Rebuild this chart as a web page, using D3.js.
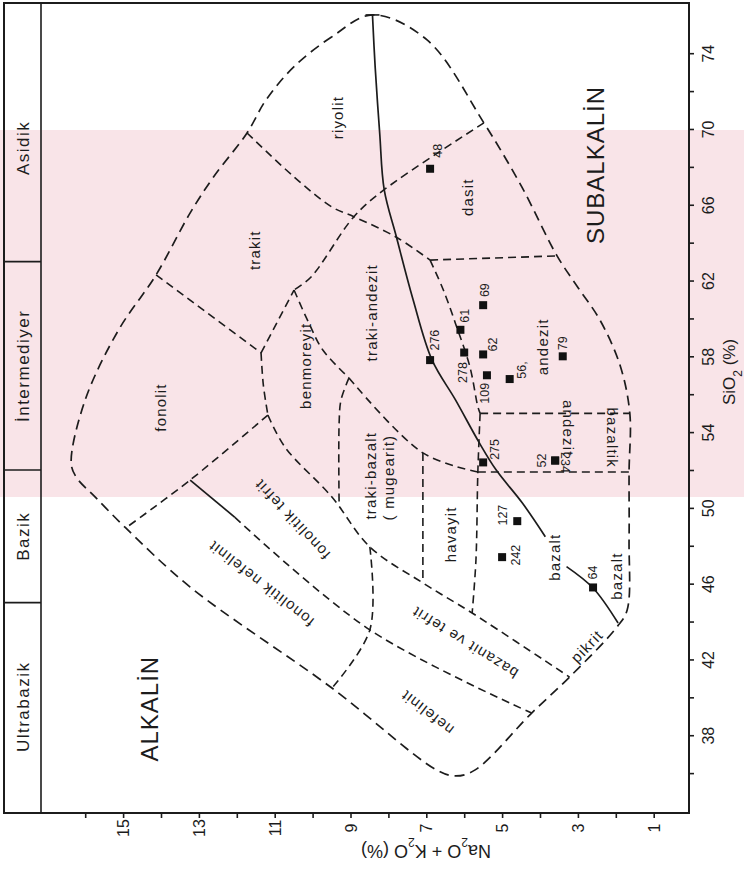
<!DOCTYPE html>
<html>
<head>
<meta charset="utf-8">
<script src="https://cdn.jsdelivr.net/npm/d3@7"></script>
<style>
  body { margin: 0; background: #fff; }
  svg { display: block; font-family: "Liberation Sans", "DejaVu Sans", sans-serif; }
</style>
</head>
<body>
<svg id="chart" width="744" height="876"></svg>
<script>
// ---- data (SiO2 %, Na2O+K2O %) ----
const sampleIds   = ["48", "276", "278", "61", "69", "62", "109", "56,", "79", "275", "52", "234", "127", "242", "64"];
const sampleSiO2  = [67.9, 57.8, 58.2, 59.4, 60.7, 58.1, 57.0, 56.8, 58.0, 52.4, 52.5, 52.5, 49.3, 47.4, 45.8];
const sampleAlk   = [6.9, 6.9, 6.0, 6.1, 5.5, 5.5, 5.4, 4.8, 3.4, 5.5, 3.6, 3.6, 4.6, 5.0, 2.6];

const silicaTicks = d3.range(36, 76, 2);
const alkaliTicks = d3.range(1, 17);

const classNames  = ["Ultrabazik", "Bazik", "İntermediyer", "Asidik"];
const classLimits = [34, 45, 52, 63, 75];

// outer envelope of the diagram
const envelope = [[76.02,8.42],[74.87,9.49],[73.29,10.49],[71.53,11.23],[69.79,11.73],[67.48,12.61],[65.57,13.23],
  [62.30,14.13],[59.39,15.12],[55.70,16.0],[52.37,16.37],[51.63,16.24],[50.58,15.74],[48.94,14.93],[45.82,13.23],
  [40.49,9.49],[36.17,6.73],[35.85,6.22],[36.17,5.71],[39.17,4.22],[41.07,3.22],[43.71,1.97],[44.61,1.70],
  [48.31,1.65],[51.89,1.65],[54.99,1.63],[57.54,1.89],[59.92,2.42],[61.61,2.99],[63.30,3.55],[66.94,4.48],
  [70.32,5.48],[74.70,6.98]];

// inner field boundaries (dashed)
const boundaries = [
  [[69.79,11.73],[67.47,10.49],[65.88,9.49],[65.37,8.91],[64.30,7.80],[63.08,6.90]],
  [[70.32,5.48],[66.78,8.12],[65.37,8.91],[62.19,10.04],[61.50,10.49]],
  [[63.08,6.90],[63.30,3.55]],
  [[63.08,6.90],[61.50,6.55],[59.56,6.20],[57.45,5.85],[55.34,5.64],[54.99,5.58]],
  [[54.99,5.58],[54.99,1.63]],
  [[54.99,5.58],[51.89,5.64],[47.25,5.69],[44.45,5.79]],
  [[51.89,5.64],[51.89,1.65]],
  [[61.50,10.49],[59.76,10.10],[58.33,9.73],[56.86,9.04]],
  [[56.86,9.04],[52.90,7.09],[51.89,5.64]],
  [[62.30,14.13],[58.18,11.36]],
  [[58.18,11.36],[61.50,10.49]],
  [[58.18,11.36],[56.49,11.30],[54.90,11.18]],
  [[54.90,11.18],[51.47,13.23],[48.94,14.93]],
  [[54.90,11.18],[53.21,10.73],[50.57,9.49],[47.94,8.49],[46.04,7.09],[44.45,5.79],[41.07,3.22]],
  [[56.86,9.04],[55.70,9.25],[54.48,9.30],[50.07,9.30]],
  [[52.90,7.09],[46.04,7.09]],
  [[49.50,12.05],[43.56,8.49],[39.17,4.22]],
  [[47.94,8.49],[43.56,8.49],[40.49,9.49]]
];
// short solid start of the phonolitic tephrite base
const tephriteBase = [[51.47,13.23],[49.50,12.05]];

// alkaline / subalkaline divide (solid)
const divideUpper = [[76.02,8.42],[73.29,8.35],[69.79,8.23],[66.78,8.11],[64.31,7.79],[61.0,7.35],[57.81,6.85],
  [55.70,6.23],[53.43,5.60],[52.01,5.16],[50.27,4.47],[48.48,3.86]];
const divideLower = [[46.90,3.30],[45.77,2.60],[43.92,1.94]];

// field names: text, SiO2, alkali
const fieldNames  = ["riyolit", "trakit", "dasit", "traki-andezit", "benmoreyit", "fonolit", "traki-bazalt", "( mugearit)",
  "havayit", "bazalt", "bazalt", "pikrit", "andezit", "bazaltik", "andezit", "fonolitik tefrit", "fonolitik nefelinit",
  "bazanit ve tefrit", "nefelinit"];
const fieldSiO2   = [70.6, 63.6, 66.4, 60.3, 57.5, 55.3, 51.7, 51.6, 48.6, 47.4, 46.4, 42.7, 58.5, 53.7, 54.2, 49.4, 46.0, 42.9, 39.2];
const fieldAlk    = [9.33, 11.52, 5.9, 8.43, 10.17, 14.0, 8.46, 7.98, 6.35, 3.6, 1.97, 2.76, 3.92, 2.1, 3.26, 10.54, 11.36, 5.98, 6.98];
const fieldAngle  = [-90, -90, -90, -90, -90, -90, -90, -90, -90, -90, -90, -46, -90, 90, 90, -133, -142, -148, -142];

// ---- layout ----
const svg = d3.select("#chart");
const frame = {left: 4, inner: 41, right: 689, top: 3, bottom: 813};

const x = d3.scaleLinear().domain([0, 17]).range([691.6, 47.3]);  // Na2O+K2O runs right to left
const y = d3.scaleLinear().domain([34, 74]).range([811, 53.2]);   // SiO2 runs upwards
const ink = "#1c1c1c";

// faint pink scan band behind the plot
svg.append("rect")
  .attr("x", 0).attr("y", 130).attr("width", 744).attr("height", 367)
  .attr("fill", "#f9e4e8");

// frame and class strip
svg.append("rect")
  .attr("x", frame.left).attr("y", frame.top)
  .attr("width", frame.right - frame.left).attr("height", frame.bottom - frame.top)
  .attr("fill", "none").attr("stroke", ink).attr("stroke-width", 2);
svg.append("line")
  .attr("x1", frame.inner).attr("x2", frame.inner)
  .attr("y1", frame.top).attr("y2", frame.bottom)
  .attr("stroke", ink).attr("stroke-width", 1.6);

svg.selectAll(".class-div")
  .data(classLimits.slice(1, -1))
  .join("line")
  .attr("x1", frame.left).attr("x2", frame.inner)
  .attr("y1", d => y(d)).attr("y2", d => y(d))
  .attr("stroke", ink).attr("stroke-width", 1.6);

svg.selectAll(".class-name")
  .data(classNames)
  .join("text")
  .attr("transform", (d, i) => `translate(23,${(y(classLimits[i]) + y(classLimits[i + 1])) / 2}) rotate(-90)`)
  .attr("text-anchor", "middle")
  .attr("dy", "0.35em")
  .attr("font-size", 17)
  .attr("letter-spacing", 1.5)
  .attr("fill", ink)
  .text(d => d);

// ---- axes ----
const yAxis = svg.append("g")
  .attr("transform", `translate(${frame.right},0)`)
  .call(d3.axisRight(y).tickValues(silicaTicks).tickSize(5)
    .tickFormat(d => (d - 38) % 4 === 0 ? d : ""));
yAxis.select(".domain").remove();
yAxis.selectAll("line").attr("stroke", ink).attr("stroke-width", 1.6);
yAxis.selectAll("text")
  .attr("x", 0).attr("dy", "0.35em")
  .attr("transform", "translate(19,0) rotate(-90)")
  .attr("text-anchor", "middle")
  .attr("font-size", 16).attr("fill", ink)
  .attr("font-family", "Liberation Sans");

const xAxis = svg.append("g")
  .attr("transform", `translate(0,${frame.bottom})`)
  .call(d3.axisBottom(x).tickValues(alkaliTicks).tickSize(5)
    .tickFormat(d => d % 2 ? d : ""));
xAxis.select(".domain").remove();
xAxis.selectAll("line").attr("stroke", ink).attr("stroke-width", 1.6);
xAxis.selectAll("text")
  .attr("y", 0).attr("dy", "0.35em")
  .attr("transform", "translate(0,15) rotate(-90)")
  .attr("text-anchor", "middle")
  .attr("font-size", 16).attr("fill", ink)
  .attr("font-family", "Liberation Sans");

// axis titles
const siTitle = svg.append("text")
  .attr("transform", "translate(729,372) rotate(-90)")
  .attr("text-anchor", "middle").attr("dy", "0.35em")
  .attr("font-size", 17).attr("fill", ink);
siTitle.append("tspan").text("SiO");
siTitle.append("tspan").attr("baseline-shift", "sub").attr("font-size", 12).text("2");
siTitle.append("tspan").text(" (%)");

const alkTitle = svg.append("text")
  .attr("transform", "translate(426,851) rotate(180)")
  .attr("text-anchor", "middle").attr("dy", "0.35em")
  .attr("font-size", 18).attr("fill", ink);
alkTitle.append("tspan").text("Na");
alkTitle.append("tspan").attr("baseline-shift", "sub").attr("font-size", 12).text("2");
alkTitle.append("tspan").text("O + K");
alkTitle.append("tspan").attr("baseline-shift", "sub").attr("font-size", 12).text("2");
alkTitle.append("tspan").text("O (%)");

// ---- fields ----
const closed = d3.line().x(d => x(d[1])).y(d => y(d[0])).curve(d3.curveCatmullRomClosed.alpha(0.5));
const open = d3.line().x(d => x(d[1])).y(d => y(d[0])).curve(d3.curveCatmullRom.alpha(0.5));

svg.append("path")
  .datum(envelope)
  .attr("d", closed)
  .attr("fill", "none").attr("stroke", ink).attr("stroke-width", 1.7)
  .attr("stroke-dasharray", "10,6");

svg.selectAll(".field-line")
  .data(boundaries)
  .join("path")
  .attr("d", open)
  .attr("fill", "none").attr("stroke", ink).attr("stroke-width", 1.6)
  .attr("stroke-dasharray", "8,5");

svg.selectAll(".divide")
  .data([divideUpper, divideLower, tephriteBase])
  .join("path")
  .attr("d", open)
  .attr("fill", "none").attr("stroke", ink).attr("stroke-width", 1.7);

// small cap at the top of the divide
svg.append("line")
  .attr("x1", x(divideUpper[0][1]) - 7).attr("x2", x(divideUpper[0][1]) + 7)
  .attr("y1", y(divideUpper[0][0])).attr("y2", y(divideUpper[0][0]))
  .attr("stroke", ink).attr("stroke-width", 1.6);

svg.selectAll(".field-name")
  .data(fieldNames)
  .join("text")
  .attr("transform", (d, i) => `translate(${x(fieldAlk[i])},${y(fieldSiO2[i])}) rotate(${fieldAngle[i]})`)
  .attr("text-anchor", "middle").attr("dy", "0.35em")
  .attr("font-size", 15).attr("letter-spacing", 1.2)
  .attr("fill", ink)
  .text(d => d);

// series labels
svg.append("text")
  .attr("transform", `translate(${x(2.52)},${y(68.1)}) rotate(-90)`)
  .attr("text-anchor", "middle").attr("dy", "0.35em")
  .attr("font-size", 24).attr("letter-spacing", 1).attr("fill", ink)
  .text("SUBALKALİN");
svg.append("text")
  .attr("transform", `translate(${x(14.29)},${y(39.4)}) rotate(-90)`)
  .attr("text-anchor", "middle").attr("dy", "0.35em")
  .attr("font-size", 24).attr("letter-spacing", 1).attr("fill", ink)
  .text("ALKALİN");

// ---- samples ----
const labelShift = [[8,-18,-90],[5,-20,-90],[-2,20,-90],[4,-14,-90],[1,-15,-90],[9,-10,-90],[-2,18,-90],[12,-9,-90],
  [0,-13,-90],[11,-13,-90],[-14,0,-90],[10,2,90],[-15,-6,-90],[14,-2,-90],[0,-15,-90]];

svg.selectAll(".sample")
  .data(sampleIds)
  .join("rect")
  .attr("x", (d, i) => x(sampleAlk[i]) - 4)
  .attr("y", (d, i) => y(sampleSiO2[i]) - 4)
  .attr("width", 8).attr("height", 8)
  .attr("fill", "#111");

svg.selectAll(".sample-id")
  .data(sampleIds)
  .join("text")
  .attr("transform", (d, i) => `translate(${x(sampleAlk[i]) + labelShift[i][0]},${y(sampleSiO2[i]) + labelShift[i][1]}) rotate(${labelShift[i][2]})`)
  .attr("text-anchor", "middle").attr("dy", "0.35em")
  .attr("font-size", 12.5).attr("fill", ink)
  .text(d => d);
</script>
</body>
</html>
